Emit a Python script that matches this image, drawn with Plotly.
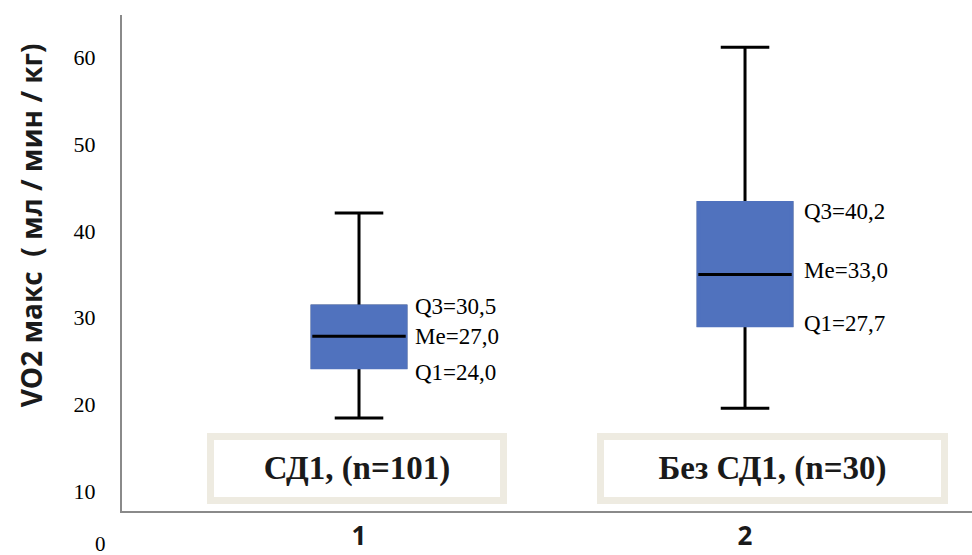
import plotly.graph_objects as go

# ---- data ----
categories = [1, 2]
tick_labels = ["<b>1</b>", "<b>2</b>"]
group_names = ["СД1, (n=101)", "Без СД1, (n=30)"]
lower_whisker = [18.45, 19.57]
q1_values = [24.26, 29.10]
median_values = [27.87, 34.98]
q3_values = [31.33, 43.24]
upper_whisker = [42.08, 61.15]
q3_text = ["Q3=30,5", "Q3=40,2"]
me_text = ["Me=27,0", "Me=33,0"]
q1_text = ["Q1=24,0", "Q1=27,7"]
y_ticks = [10, 20, 30, 40, 50, 60]

BLUE = "#5072be"
SERIF = "Liberation Serif"
SANS = "Open Sans"
BOXW = 0.242
WW = 0.52

fig = go.Figure()

# whiskers + outline (black)
fig.add_trace(go.Box(
    x=categories, q1=q1_values, median=median_values, q3=q3_values,
    lowerfence=lower_whisker, upperfence=upper_whisker,
    width=BOXW, whiskerwidth=WW, boxpoints=False,
    fillcolor=BLUE, line=dict(color="black", width=3),
    showlegend=False, hoverinfo="skip"))
# blue box body covering the outline
fig.add_trace(go.Box(
    x=categories, q1=q1_values, median=q1_values, q3=q3_values,
    lowerfence=q1_values, upperfence=q3_values,
    width=BOXW, whiskerwidth=WW, boxpoints=False,
    fillcolor=BLUE, line=dict(color=BLUE, width=3.6),
    showlegend=False, hoverinfo="skip"))
# black median line
fig.add_trace(go.Box(
    x=categories, q1=median_values, median=median_values, q3=median_values,
    lowerfence=median_values, upperfence=median_values,
    width=BOXW, whiskerwidth=WW, boxpoints=False,
    fillcolor="black", line=dict(color="black", width=3),
    showlegend=False, hoverinfo="skip"))

annotations = []
# quartile labels
q_shift = [54, 57]
q3_yshift = [0, -9]
me_yshift = [0, 4]
q1_yshift = [-5, 2]
for i, c in enumerate(categories):
    for txt, yv, ys in ((q3_text[i], q3_values[i], q3_yshift[i]),
                        (me_text[i], median_values[i], me_yshift[i]),
                        (q1_text[i], q1_values[i], q1_yshift[i])):
        annotations.append(dict(
            x=c, y=yv, xref="x", yref="y", text=txt, showarrow=False,
            xanchor="left", yanchor="middle", xshift=q_shift[i], yshift=ys,
            font=dict(family=SERIF, size=23, color="black")))

# group label boxes
box_xshift = [-2, 27]
box_width = [286, 337]
for i, c in enumerate(categories):
    annotations.append(dict(
        x=c, y=12.65, xref="x", yref="y", text="<b>" + group_names[i] + "</b>",
        showarrow=False, xanchor="center", yanchor="middle", xshift=box_xshift[i],
        width=box_width[i], height=57, align="center", valign="middle",
        bgcolor="white", bordercolor="#eeebe1", borderwidth=7, borderpad=0,
        font=dict(family=SERIF, size=33, color="#1a1a1a")))

# y axis title
annotations.append(dict(
    x=-0.107, y=0.576, xref="paper", yref="paper", text="<b>VO2 макс  ( мл / мин / кг)</b>",
    showarrow=False, textangle=-90, xanchor="center", yanchor="middle",
    font=dict(family=SANS, size=28, color="#1a1a1a")))

# stray "0" tick label below the axis
annotations.append(dict(
    x=-0.025, y=-0.0888, xref="paper", yref="paper", text="0", showarrow=False,
    xanchor="center", yanchor="bottom", yshift=-3,
    font=dict(family=SERIF, size=21, color="black")))

fig.update_layout(
    width=972, height=555,
    margin=dict(l=122, r=0, t=15, b=44),
    paper_bgcolor="white", plot_bgcolor="white",
    boxmode="overlay", showlegend=False,
    annotations=annotations,
    xaxis=dict(range=[0.386, 2.588], tickvals=categories, ticktext=tick_labels,
               automargin=False,
               showgrid=False, zeroline=False, showline=True, linecolor="#8a8a8a",
               linewidth=2, ticks="outside", ticklen=1, tickcolor="rgba(0,0,0,0)",
               tickfont=dict(family=SANS, size=26, color="#1a1a1a")),
    yaxis=dict(range=[7.73, 64.88], tickvals=y_ticks, automargin=False,
               showgrid=False, zeroline=False, showline=True, linecolor="#8a8a8a",
               linewidth=2, ticks="outside", ticklen=20, tickcolor="rgba(0,0,0,0)",
               tickfont=dict(family=SERIF, size=22, color="black")),
)

fig.write_html("out.html", config={"displayModeBar": False},
               post_script="document.body.style.margin='0';document.body.style.overflow='hidden';")
